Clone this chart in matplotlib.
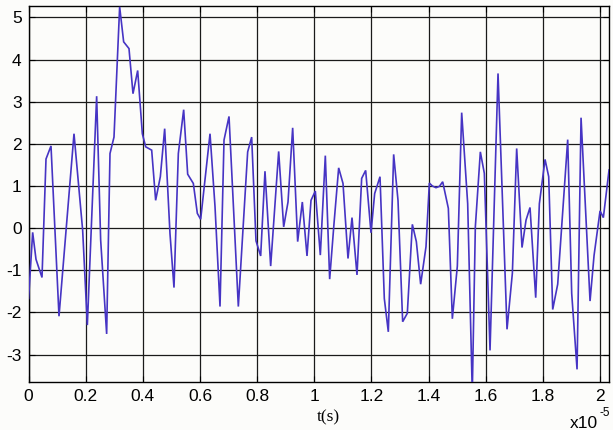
import matplotlib
matplotlib.use("Agg")
import matplotlib.pyplot as plt
from matplotlib.font_manager import FontProperties
import numpy as np

# time in units of 1e-5 s
t_e5 = [0.000, 0.0142, 0.0259, 0.0469, 0.0609, 0.0784, 0.1064, 0.1589, 0.1892, 0.2056,
        0.2382, 0.2522, 0.2732, 0.2849, 0.2989, 0.3187, 0.3327, 0.3514, 0.3654, 0.3818,
        0.3981, 0.4098, 0.4308, 0.4447, 0.4611, 0.4763, 0.4949, 0.5089, 0.5241, 0.5428,
        0.5568, 0.5766, 0.5906, 0.6023, 0.6350, 0.6525, 0.6700, 0.6840, 0.7015, 0.7341,
        0.7668, 0.7808, 0.7959, 0.8123, 0.8274, 0.8473, 0.8753, 0.8928, 0.9080, 0.9243,
        0.9418, 0.9581, 0.9745, 0.9885, 1.0036, 1.0211, 1.0386, 1.0538, 1.0690, 1.0853,
        1.1005, 1.1180, 1.1320, 1.1495, 1.1658, 1.1798, 1.1985, 1.2113, 1.2300, 1.2451,
        1.2591, 1.2778, 1.2930, 1.3093, 1.3256, 1.3432, 1.3572, 1.3723, 1.3910, 1.4027,
        1.4132, 1.4260, 1.4377, 1.4494, 1.4692, 1.4832, 1.5007, 1.5159, 1.5369, 1.5530,
        1.5637, 1.5812, 1.5952, 1.6151, 1.6431, 1.6746, 1.6933, 1.7084, 1.7271, 1.7411,
        1.7551, 1.7750, 1.7878, 1.8077, 1.8205, 1.8345, 1.8520, 1.8870, 1.9010, 1.9197,
        1.9337, 1.9652, 1.9792, 2.0002, 2.0118, 2.0317]

signal = [-1.67, -0.10, -0.74, -1.17, 1.64, 1.95, -2.09, 2.24, -0.05, -2.30,
          3.13, -0.28, -2.51, 1.77, 2.16, 5.25, 4.42, 4.26, 3.19, 3.74,
          2.24, 1.93, 1.85, 0.66, 1.22, 2.36, -0.13, -1.41, 1.77, 2.81,
          1.28, 1.06, 0.35, 0.21, 2.24, 0.51, -1.86, 2.09, 2.65, -1.86,
          1.81, 2.16, -0.30, -0.66, 1.35, -0.90, 1.82, 0.03, 0.62, 2.38,
          -0.32, 0.62, -0.66, 0.66, 0.88, -0.64, 1.72, -1.21, 0.11, 1.43,
          1.06, -0.72, 0.25, -1.11, 1.18, 1.37, -0.11, 0.82, 1.22, -1.67,
          -2.46, 1.75, 0.66, -2.22, -2.02, 0.09, -0.32, -1.33, -0.44, 1.07,
          1.00, 0.96, 0.99, 1.10, 0.47, -2.15, -0.90, 2.74, 0.58, -3.90,
          0.03, 1.81, 1.30, -2.90, 3.67, -2.40, -1.07, 1.89, -0.46, 0.19,
          0.49, -1.65, 0.58, 1.63, 1.22, -1.93, -1.33, 2.10, -1.55, -3.35,
          2.62, -1.73, -0.65, 0.41, 0.25, 1.38]

x_ticks = [0, 0.2, 0.4, 0.6, 0.8, 1.0, 1.2, 1.4, 1.6, 1.8, 2.0]
x_ticklabels = ["0", "0.2", "0.4", "0.6", "0.8", "1", "1.2", "1.4", "1.6", "1.8", "2"]
y_ticks = [-3, -2, -1, 0, 1, 2, 3, 4, 5]
y_ticklabels = ["-3", "-2", "-1", "0", "1", "2", "3", "4", "5"]

plt.rcParams['axes.unicode_minus'] = False
plt.rcParams['font.family'] = ['Liberation Sans', 'DejaVu Sans']

W, H = 613, 430
fig = plt.figure(figsize=(W / 100, H / 100), dpi=100, facecolor='#fcfcfa')
l, r, top, bot = 28.6, 609.3, 6.0, 382.0
ax = fig.add_axes([l / W, 1 - bot / H, (r - l) / W, (bot - top) / H])
ax.set_facecolor('#fcfcfa')

ax.plot(t_e5, signal, color='#4634c4', lw=1.2, solid_joinstyle='miter', zorder=3)

ax.set_xlim(0, 2.0326)
ax.set_ylim(-3.65, 5.27)
ax.set_xticks(x_ticks)
ax.set_xticklabels(x_ticklabels)
ax.set_yticks(y_ticks)
ax.set_yticklabels(y_ticklabels)
ax.grid(True, color='#1a1a1a', lw=0.9, ls='-', zorder=1)
ax.tick_params(direction='in', length=4, width=0.8, top=True, right=True,
               labelsize=12.5, colors='black', pad=5)
for s in ax.spines.values():
    s.set_color('black')
    s.set_linewidth(1.0)

serif_fp = FontProperties(family='Liberation Serif', size=12.5)
fig.text(328 / W, 1 - 417 / H, 't(s)', fontproperties=serif_fp,
         ha='center', va='center')
fig.text(598 / W, 1 - 424 / H, 'x10', fontsize=12.5, ha='right', va='center')
fig.text(599 / W, 1 - 413 / H, '-5', fontsize=8.5, ha='left', va='center')

fig.savefig('out.png', dpi=100, facecolor=fig.get_facecolor())
